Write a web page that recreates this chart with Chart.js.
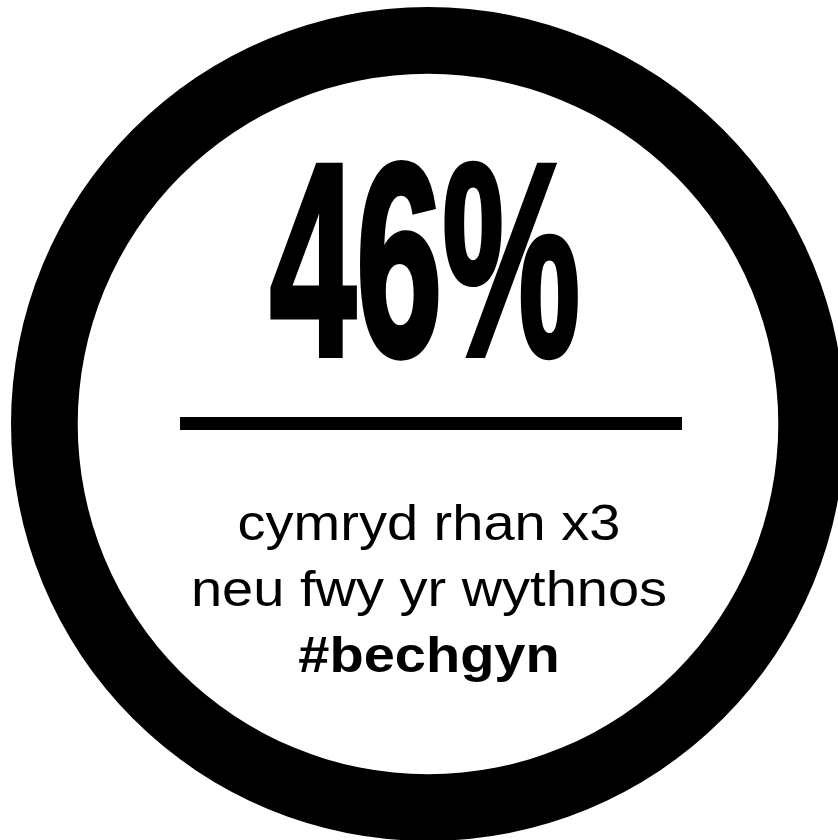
<!DOCTYPE html>
<html>
<head>
<meta charset="utf-8">
<script src="https://cdn.jsdelivr.net/npm/chart.js@4"></script>
<style>
    html, body { margin: 0; padding: 0; background: #fff; overflow: hidden; width: 838px; height: 840px; }
    #ring-canvas { position: absolute; left: 0; top: 0; }
</style>
</head>
<body>
<canvas id="ring-canvas" width="856" height="848"></canvas>
<script>
// data
const ringLabels = ['cymryd rhan x3 neu fwy yr wythnos'];
const ringValues = [100];
const percentValue = [46];
const captionLines = ['cymryd rhan x3', 'neu fwy yr wythnos'];
const hashtag = ['#bechgyn'];

const centreText = {
    id: 'centreText',
    afterDraw(chart) {
        const ctx = chart.ctx;
        const cx = 429;
        ctx.save();
        ctx.fillStyle = '#000';
        ctx.strokeStyle = '#000';
        ctx.textAlign = 'center';
        ctx.textBaseline = 'alphabetic';

        // big number, squeezed and thickened a bit
        ctx.save();
        ctx.translate(425, 355);
        ctx.scale(0.564, 1);
        ctx.font = 'bold 275px "Liberation Sans", Arial, sans-serif';
        ctx.lineWidth = 6;
        ctx.lineJoin = 'miter';
        ctx.fillText(percentValue[0] + '%', 0, 0);
        ctx.strokeText(percentValue[0] + '%', 0, 0);
        ctx.restore();

        // rule
        ctx.fillRect(180, 417, 502, 13);

        // caption
        const drawLine = function(text, y, weight) {
            ctx.save();
            ctx.translate(cx, y);
            ctx.scale(1.12, 1);
            ctx.font = weight + ' 50px "Liberation Sans", Arial, sans-serif';
            ctx.fillText(text, 0, 0);
            ctx.restore();
        };
        drawLine(captionLines[0], 540, 'normal');
        drawLine(captionLines[1], 606, 'normal');
        drawLine(hashtag[0], 672, 'bold');
        ctx.restore();
    }
};

const context = document.getElementById('ring-canvas');
const ringChart = new Chart(context, {
    type: 'doughnut',
    data: {
        labels: ringLabels,
        datasets: [{
            data: ringValues,
            backgroundColor: ['#000000'],
            hoverBackgroundColor: ['#000000'],
            borderWidth: 0
        }]
    },
    options: {
        responsive: false,
        animation: false,
        cutout: '84%',
        layout: { padding: { left: 11, right: 11, top: 7, bottom: 7 } },
        plugins: {
            legend: { display: false },
            tooltip: { enabled: false }
        },
        events: []
    },
    plugins: [centreText]
});
</script>
</body>
</html>
